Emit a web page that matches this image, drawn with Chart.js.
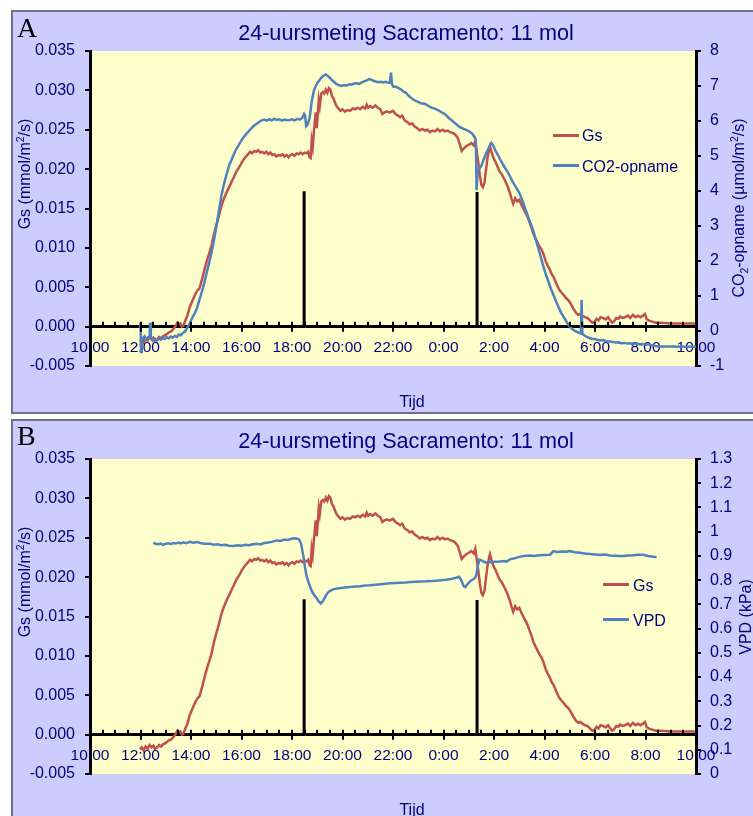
<!DOCTYPE html>
<html><head><meta charset="utf-8">
<script src="https://cdn.jsdelivr.net/npm/chart.js@4.4.0/dist/chart.umd.min.js"></script>
<style>
html,body{margin:0;padding:0;background:#fff;width:753px;height:816px;overflow:hidden;position:relative;font-family:"Liberation Sans",Arial,sans-serif;}
.panel{position:absolute;left:11px;width:760px;background:#CCCCFF;border:2px solid #6F6F8F;box-sizing:border-box;}
#pA{top:10px;height:404px;}
#pB{top:419px;height:430px;}
canvas{position:absolute;left:0;z-index:2;}
#cA{top:0;}
#cB{top:408px;}
.t{position:absolute;color:#000080;white-space:nowrap;z-index:3;line-height:1;}
.c{transform:translate(-50%,-50%);}
.r{transform:translate(-50%,-50%) rotate(-90deg);}
.title{font-size:21.6px;}
.letter{font-family:"Liberation Serif","Times New Roman",serif;color:#000;font-size:28px;}
.ax{font-size:16px;}
.lg{font-size:16px;transform:translateY(-50%);}
.ln{position:absolute;height:3px;width:26px;z-index:3;}
sup,sub{font-size:65%;line-height:0;}
</style>
</head><body>
<div class="panel" id="pA"></div>
<div class="panel" id="pB"></div>
<canvas id="cA" width="753" height="413"></canvas>
<canvas id="cB" width="753" height="408"></canvas>

<div class="t letter" style="left:17px;top:14px;">A</div>
<div class="t title c" style="left:406px;top:33px;">24-uursmeting Sacramento: 11 mol</div>
<div class="t ax r" style="left:25px;top:174px;">Gs (mmol/m<sup>2</sup>/s)</div>
<div class="t ax r" style="left:739px;top:208px;">CO<sub>2</sub>-opname (µmol/m<sup>2</sup>/s)</div>
<div class="t ax c" style="left:412px;top:402px;">Tijd</div>
<div class="ln" style="left:553px;top:134px;background:#C0504D;"></div>
<div class="t lg" style="left:582px;top:136px;">Gs</div>
<div class="ln" style="left:553px;top:164px;background:#4F81BD;"></div>
<div class="t lg" style="left:582px;top:167px;">CO2-opname</div>

<div class="t letter" style="left:17px;top:422px;">B</div>
<div class="t title c" style="left:406px;top:441px;">24-uursmeting Sacramento: 11 mol</div>
<div class="t ax r" style="left:25px;top:582px;">Gs (mmol/m<sup>2</sup>/s)</div>
<div class="t ax r" style="left:746px;top:617px;">VPD (kPa)</div>
<div class="t ax c" style="left:412px;top:810px;">Tijd</div>
<div class="ln" style="left:603px;top:583px;background:#C0504D;"></div>
<div class="t lg" style="left:633px;top:586px;">Gs</div>
<div class="ln" style="left:603px;top:618px;background:#4F81BD;"></div>
<div class="t lg" style="left:633px;top:621px;">VPD</div>

<script>
// x values: hours after 10:00
const timeTicks = ['10:00','12:00','14:00','16:00','18:00','20:00','22:00','0:00','2:00','4:00','6:00','8:00','10:00'];
const gsTicks = ['-0.005','0.000','0.005','0.010','0.015','0.020','0.025','0.030','0.035'];
const co2Ticks = ['-1','0','1','2','3','4','5','6','7','8'];
const vpdTicks = ['0','0.1','0.2','0.3','0.4','0.5','0.6','0.7','0.8','0.9','1','1.1','1.2','1.3'];

const gsTime = [1.98,2.05,2.12,2.20,2.28,2.36,2.44,2.51,2.58,2.66,2.74,2.82,2.90,2.98,3.06,3.14,3.22,3.30,3.38,3.46,3.52,3.58,3.64,3.70,3.78,3.86,3.94,4.02,4.10,4.18,4.26,4.34,4.42,4.50,4.58,4.66,4.74,4.82,4.90,4.98,5.06,5.14,5.22,5.30,5.38,5.46,5.54,5.62,5.70,5.78,5.86,5.94,6.02,6.10,6.18,6.26,6.34,6.42,6.50,6.58,6.66,6.74,6.82,6.90,6.98,7.06,7.14,7.22,7.30,7.38,7.46,7.54,7.62,7.70,7.78,7.86,7.94,8.02,8.10,8.18,8.26,8.34,8.42,8.50,8.58,8.64,8.70,8.74,8.78,8.82,8.86,8.90,8.94,8.98,9.02,9.06,9.10,9.16,9.22,9.28,9.34,9.40,9.46,9.52,9.58,9.64,9.70,9.76,9.84,9.92,10.00,10.10,10.20,10.30,10.40,10.50,10.60,10.70,10.80,10.90,10.96,11.02,11.10,11.20,11.30,11.40,11.50,11.58,11.66,11.76,11.88,12.00,12.10,12.20,12.28,12.36,12.46,12.56,12.66,12.76,12.86,12.96,13.06,13.16,13.26,13.36,13.46,13.56,13.66,13.76,13.86,13.96,14.06,14.16,14.26,14.36,14.46,14.56,14.64,14.72,14.80,14.90,15.00,15.10,15.20,15.26,15.32,15.38,15.44,15.50,15.56,15.62,15.68,15.74,15.80,15.84,15.90,15.98,16.06,16.14,16.22,16.30,16.38,16.46,16.54,16.62,16.70,16.76,16.84,16.92,17.00,17.08,17.16,17.24,17.32,17.40,17.48,17.56,17.64,17.72,17.80,17.88,17.96,18.04,18.12,18.20,18.28,18.36,18.44,18.52,18.60,18.68,18.76,18.86,18.96,19.06,19.16,19.26,19.34,19.42,19.50,19.60,19.70,19.80,19.90,19.98,20.06,20.14,20.22,20.32,20.42,20.52,20.60,20.68,20.76,20.84,20.92,21.00,21.10,21.20,21.30,21.40,21.50,21.60,21.70,21.80,21.90,21.98,22.04,22.12,22.20,22.30,22.40,22.60,23.00,23.50,24.00];
const gsValues = [-0.0019,-0.0016,-0.0020,-0.0015,-0.0018,-0.0013,-0.0016,-0.0014,-0.0018,-0.0016,-0.0013,-0.0015,-0.0012,-0.0011,-0.0009,-0.0007,-0.0006,-0.0003,0.0000,0.0005,0.0003,0.0004,0.0000,0.0001,0.0008,0.0014,0.0024,0.0030,0.0036,0.0042,0.0046,0.0049,0.0058,0.0068,0.0078,0.0087,0.0095,0.0104,0.0116,0.0126,0.0135,0.0145,0.0155,0.0162,0.0168,0.0174,0.0179,0.0185,0.0190,0.0196,0.0200,0.0204,0.0209,0.0213,0.0216,0.0219,0.0222,0.0220,0.0223,0.0222,0.0224,0.0221,0.0222,0.0220,0.0222,0.0219,0.0221,0.0218,0.0219,0.0216,0.0218,0.0217,0.0219,0.0216,0.0218,0.0215,0.0218,0.0219,0.0217,0.0220,0.0219,0.0221,0.0219,0.0221,0.0220,0.0222,0.0215,0.0214,0.0236,0.0228,0.0245,0.0258,0.0272,0.0252,0.0268,0.0288,0.0280,0.0296,0.0298,0.0296,0.0301,0.0297,0.0303,0.0301,0.0293,0.0290,0.0285,0.0280,0.0277,0.0274,0.0276,0.0273,0.0275,0.0274,0.0277,0.0276,0.0278,0.0276,0.0279,0.0277,0.0282,0.0278,0.0280,0.0278,0.0281,0.0278,0.0276,0.0270,0.0272,0.0273,0.0272,0.0274,0.0270,0.0268,0.0266,0.0268,0.0262,0.0260,0.0257,0.0258,0.0254,0.0252,0.0249,0.0251,0.0249,0.0250,0.0247,0.0249,0.0248,0.0251,0.0248,0.0250,0.0248,0.0249,0.0247,0.0246,0.0244,0.0240,0.0232,0.0223,0.0226,0.0229,0.0231,0.0233,0.0230,0.0236,0.0222,0.0208,0.0192,0.0180,0.0177,0.0182,0.0198,0.0214,0.0224,0.0229,0.0222,0.0214,0.0209,0.0203,0.0197,0.0194,0.0189,0.0184,0.0178,0.0171,0.0162,0.0156,0.0163,0.0159,0.0161,0.0155,0.0150,0.0145,0.0140,0.0133,0.0126,0.0118,0.0112,0.0107,0.0102,0.0098,0.0092,0.0084,0.0078,0.0073,0.0067,0.0063,0.0057,0.0051,0.0046,0.0043,0.0040,0.0036,0.0033,0.0028,0.0022,0.0017,0.0015,0.0016,0.0014,0.0012,0.0011,0.0008,0.0005,0.0006,0.0010,0.0008,0.0012,0.0011,0.0009,0.0012,0.0008,0.0005,0.0007,0.0011,0.0010,0.0013,0.0011,0.0012,0.0014,0.0011,0.0015,0.0012,0.0014,0.0012,0.0014,0.0016,0.0010,0.0008,0.0007,0.0006,0.0005,0.0005,0.0004,0.0004,0.0004];

const co2Time = [1.98,2.00,2.02,2.05,2.10,2.16,2.22,2.30,2.36,2.38,2.41,2.48,2.56,2.64,2.72,2.80,2.88,2.96,3.04,3.12,3.20,3.28,3.36,3.44,3.52,3.60,3.68,3.76,3.84,3.92,4.00,4.08,4.16,4.24,4.32,4.40,4.48,4.56,4.64,4.72,4.80,4.88,4.96,5.04,5.12,5.20,5.28,5.36,5.44,5.52,5.60,5.68,5.76,5.84,5.92,6.00,6.10,6.20,6.30,6.40,6.50,6.60,6.70,6.80,6.90,7.00,7.10,7.20,7.30,7.40,7.50,7.60,7.70,7.80,7.90,8.00,8.10,8.20,8.30,8.40,8.48,8.52,8.56,8.62,8.70,8.78,8.86,8.94,9.02,9.10,9.18,9.26,9.34,9.42,9.50,9.58,9.66,9.76,9.86,9.96,10.06,10.16,10.26,10.36,10.46,10.56,10.66,10.76,10.86,10.96,11.06,11.14,11.22,11.32,11.42,11.52,11.62,11.72,11.82,11.88,11.92,11.96,12.02,12.12,12.22,12.32,12.42,12.52,12.62,12.72,12.82,12.92,13.02,13.12,13.22,13.32,13.42,13.52,13.62,13.72,13.82,13.92,14.02,14.12,14.22,14.32,14.42,14.52,14.62,14.72,14.82,14.92,15.02,15.12,15.20,15.28,15.31,15.34,15.38,15.44,15.50,15.58,15.66,15.74,15.82,15.90,15.98,16.06,16.16,16.26,16.36,16.46,16.56,16.66,16.76,16.86,16.96,17.06,17.16,17.26,17.36,17.46,17.56,17.66,17.76,17.86,17.96,18.06,18.16,18.26,18.36,18.46,18.56,18.66,18.76,18.86,18.96,19.06,19.16,19.26,19.36,19.44,19.47,19.50,19.58,19.68,19.78,19.88,19.98,20.08,20.20,20.32,20.44,20.56,20.68,20.80,20.92,21.04,21.16,21.28,21.40,21.52,21.64,21.76,21.88,22.00,22.12,22.24,22.40,22.60,23.00,23.50,24.00];
const co2Values = [0.10,0.24,-0.60,-0.30,-0.20,-0.15,-0.25,-0.18,-0.20,0.24,-0.20,-0.28,-0.22,-0.27,-0.22,-0.25,-0.20,-0.23,-0.18,-0.21,-0.16,-0.19,-0.14,-0.17,-0.10,-0.12,-0.05,-0.02,0.08,0.18,0.30,0.42,0.52,0.66,0.86,1.05,1.25,1.48,1.72,1.95,2.20,2.48,2.80,3.15,3.50,3.85,4.12,4.35,4.55,4.75,4.88,5.02,5.15,5.25,5.35,5.45,5.55,5.64,5.72,5.80,5.87,5.92,5.97,6.02,6.04,6.01,6.05,6.02,6.06,6.03,6.05,6.01,6.04,6.02,6.03,6.05,6.02,6.06,6.04,6.08,6.20,6.15,5.85,5.90,6.10,6.55,6.85,7.00,7.10,7.18,7.25,7.30,7.33,7.29,7.23,7.17,7.12,7.06,7.02,7.00,7.03,7.01,7.05,7.04,7.07,7.08,7.06,7.10,7.13,7.16,7.20,7.18,7.15,7.13,7.11,7.12,7.10,7.12,7.09,7.10,7.38,7.05,6.98,6.98,6.94,6.90,6.84,6.80,6.72,6.66,6.60,6.57,6.54,6.50,6.50,6.47,6.42,6.38,6.36,6.33,6.30,6.25,6.21,6.15,6.08,6.02,5.96,5.90,5.84,5.80,5.77,5.74,5.70,5.65,5.57,5.47,4.02,4.40,4.62,4.66,4.72,4.88,5.02,5.15,5.28,5.37,5.28,5.15,5.02,4.88,4.75,4.63,4.52,4.38,4.24,4.12,4.00,3.85,3.65,3.45,3.25,3.05,2.85,2.60,2.35,2.10,1.83,1.60,1.40,1.20,1.02,0.84,0.68,0.52,0.40,0.28,0.16,0.08,0.02,-0.02,-0.05,-0.07,0.89,-0.08,-0.13,-0.17,-0.20,-0.22,-0.23,-0.25,-0.27,-0.26,-0.29,-0.30,-0.31,-0.33,-0.32,-0.35,-0.34,-0.36,-0.35,-0.37,-0.36,-0.38,-0.37,-0.39,-0.38,-0.41,-0.43,-0.44,-0.44,-0.45,-0.45];

const vpdTime = [2.51,2.60,2.70,2.80,2.90,3.00,3.10,3.20,3.30,3.40,3.50,3.60,3.70,3.80,3.96,4.10,4.25,4.40,4.55,4.75,4.90,5.05,5.20,5.35,5.50,5.68,5.85,6.00,6.15,6.30,6.45,6.60,6.75,6.90,7.05,7.20,7.39,7.55,7.70,7.85,8.00,8.15,8.28,8.36,8.45,8.52,8.58,8.66,8.74,8.82,8.90,8.98,9.06,9.14,9.20,9.28,9.36,9.46,9.56,9.66,9.80,9.95,10.10,10.30,10.50,10.70,10.90,11.10,11.30,11.50,11.70,11.88,12.10,12.30,12.50,12.70,12.90,13.10,13.30,13.50,13.70,13.90,14.10,14.30,14.50,14.62,14.70,14.80,14.86,14.94,15.04,15.14,15.24,15.30,15.36,15.42,15.50,15.60,15.71,15.85,16.00,16.24,16.40,16.50,16.63,16.80,17.00,17.16,17.40,17.60,17.80,18.00,18.22,18.35,18.50,18.70,18.88,19.00,19.20,19.40,19.60,19.80,20.00,20.20,20.40,20.60,20.80,21.00,21.12,21.30,21.50,21.70,21.91,22.10,22.30,22.44];
const vpdValues = [0.955,0.950,0.948,0.951,0.946,0.950,0.952,0.949,0.953,0.951,0.955,0.952,0.956,0.953,0.958,0.954,0.957,0.952,0.950,0.950,0.946,0.948,0.944,0.946,0.942,0.941,0.944,0.942,0.946,0.944,0.948,0.950,0.947,0.953,0.955,0.958,0.964,0.962,0.968,0.966,0.972,0.973,0.968,0.950,0.900,0.850,0.815,0.790,0.766,0.748,0.736,0.725,0.712,0.704,0.710,0.724,0.740,0.752,0.759,0.763,0.766,0.768,0.770,0.772,0.774,0.775,0.778,0.779,0.781,0.783,0.785,0.787,0.788,0.789,0.790,0.792,0.793,0.794,0.795,0.797,0.798,0.800,0.802,0.805,0.810,0.814,0.800,0.775,0.771,0.782,0.794,0.802,0.808,0.820,0.860,0.885,0.882,0.876,0.872,0.874,0.876,0.877,0.879,0.876,0.886,0.890,0.896,0.900,0.902,0.900,0.903,0.904,0.905,0.920,0.916,0.918,0.917,0.920,0.915,0.913,0.910,0.908,0.906,0.904,0.906,0.902,0.901,0.900,0.900,0.902,0.903,0.905,0.905,0.900,0.897,0.894];

// vertical marker lines (hours after 10:00, Gs-axis height)
const markerTime = [8.48, 15.33];
const markerHeight = [0.0172, 0.0171];

const RED = '#C0504D', BLUE = '#4F81BD', NAVY = '#000080';
const FONT = '"Liberation Sans", Arial, sans-serif';

function pts(t, v){ return t.map((x,i)=>({x:x, y:v[i]})); }
function markerPts(){
  const out = [];
  markerTime.forEach((t,i)=>{ if(i) out.push({x:t, y:null}); out.push({x:t,y:0}); out.push({x:t,y:markerHeight[i]}); });
  return out;
}

const bgPlugin = {
  id:'bg',
  beforeDraw(chart){
    const a = chart.chartArea, ctx = chart.ctx;
    ctx.save(); ctx.fillStyle = '#FFFFCC'; ctx.fillRect(a.left, a.top, a.right-a.left, a.bottom-a.top); ctx.restore();
  }
};
const xTickPlugin = {
  id:'xticks',
  afterDraw(chart){
    const xs = chart.scales.x, ys = chart.scales.y, ctx = chart.ctx;
    const y0 = ys.getPixelForValue(0);
    ctx.save(); ctx.strokeStyle = '#000'; ctx.lineWidth = 2;
    for(let v = 0; v <= 24; v += 0.5){
      const px = Math.round(xs.getPixelForValue(v));
      const major = (v % 2 === 0);
      ctx.beginPath(); ctx.moveTo(px, y0-5); ctx.lineTo(px, y0 + (major ? 5 : 0)); ctx.stroke();
    }
    ctx.restore();
  }
};

function makeChart(id, bottomPad, rightCfg, seriesDs){
  const datasets = seriesDs.concat([{
    label:'markers', data: markerPts(), yAxisID:'y', borderColor:'#000', borderWidth:3,
    pointRadius:0, spanGaps:false, borderCapStyle:'butt'
  }]);
  return new Chart(document.getElementById(id), {
    type:'line',
    data:{ datasets },
    options:{
      responsive:false, animation:false, devicePixelRatio:1,
      layout:{ padding:{ top:51, bottom:bottomPad, left:0, right:0 } },
      plugins:{ legend:{display:false}, tooltip:{enabled:false}, title:{display:false} },
      elements:{ line:{ tension:0 }, point:{ radius:0 } },
      scales:{
        x:{
          type:'linear', position:{y:0}, min:0, max:24,
          ticks:{ stepSize:2, autoSkip:false, maxRotation:0, color:NAVY, font:{family:FONT,size:15.5}, padding:12,
                  callback:(v)=> timeTicks[Math.round(v/2)] },
          grid:{ display:true, drawOnChartArea:false, drawTicks:false },
          border:{ display:true, color:'#000', width:3 }
        },
        y:{
          type:'linear', position:'left', min:-0.005, max:0.035,
          ticks:{ stepSize:0.005, color:NAVY, font:{family:FONT,size:16}, padding:10,
                  callback:(v)=> gsTicks[Math.round((v+0.005)/0.005)] },
          grid:{ drawOnChartArea:false, drawTicks:true, tickLength:5, color:'#000', lineWidth:2 },
          border:{ display:true, color:'#000', width:3 },
          afterFit(s){ s.width = 90; }
        },
        y2: Object.assign({
          type:'linear', position:'right',
          grid:{ drawOnChartArea:false, drawTicks:true, tickLength:5, color:'#000', lineWidth:2 },
          border:{ display:true, color:'#000', width:3 },
          afterFit(s){ s.width = 57; }
        }, rightCfg)
      }
    },
    plugins:[bgPlugin, xTickPlugin]
  });
}

makeChart('cA', 47, {
  min:-1, max:8,
  ticks:{ stepSize:1, color:NAVY, font:{family:FONT,size:16}, padding:9, callback:(v)=> co2Ticks[Math.round(v+1)] }
}, [
  { label:'CO2-opname', data:pts(co2Time, co2Values), yAxisID:'y2', borderColor:BLUE, borderWidth:2.5, pointRadius:0 },
  { label:'Gs', data:pts(gsTime, gsValues), yAxisID:'y', borderColor:RED, borderWidth:2.5, pointRadius:0 }
]);

makeChart('cB', 42, {
  min:0, max:1.3,
  ticks:{ stepSize:0.1, color:NAVY, font:{family:FONT,size:16}, padding:9, callback:(v)=> vpdTicks[Math.round(v*10)] }
}, [
  { label:'VPD', data:pts(vpdTime, vpdValues), yAxisID:'y2', borderColor:BLUE, borderWidth:2.5, pointRadius:0 },
  { label:'Gs', data:pts(gsTime, gsValues), yAxisID:'y', borderColor:RED, borderWidth:2.5, pointRadius:0 }
]);
</script>
</body></html>
